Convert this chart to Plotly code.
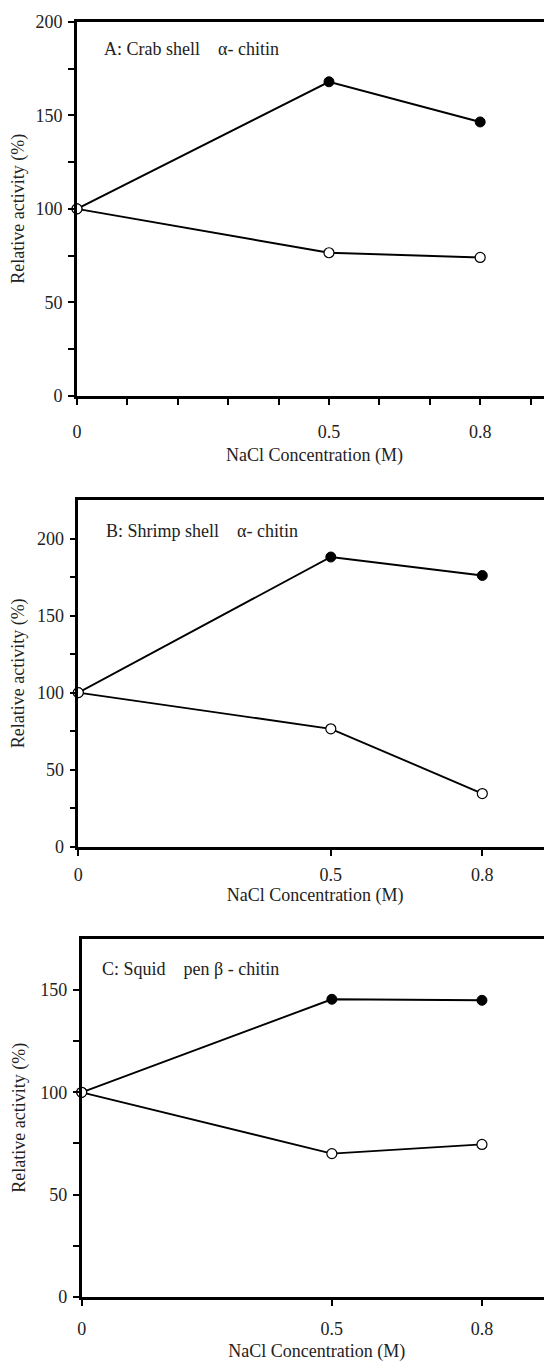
import plotly.graph_objects as go

OFF = 8  # default page body margin
W, H = 552 - OFF, 1362 - OFF

nacl = [0, 0.5, 0.8]

crab_filled = [100, 168, 146.5]
crab_open = [100, 76.5, 74]
shrimp_filled = [100, 188, 176]
shrimp_open = [100, 76.5, 34.5]
squid_filled = [100, 145.5, 145]
squid_open = [100, 70, 74.5]

panel_labels = ["A: Crab shell    \u03b1- chitin",
                "B: Shrimp shell    \u03b1- chitin",
                "C: Squid    pen \u03b2 - chitin"]
x_title = "NaCl Concentration (M)"
y_title = "Relative activity (%)"

FONT = "Liberation Serif"
FS = 18
COL = "#222"

# panel geometry in page pixels
panels = [
    dict(left=77, top=22, bottom=395.7, xmax=0.9425, ymax=200,
         filled=crab_filled, open=crab_open,
         xticks=[0, 0.1, 0.2, 0.3, 0.4, 0.5, 0.6, 0.7, 0.8, 0.9],
         yticks=[0, 25, 50, 75, 100, 125, 150, 175, 200],
         lab_off=12, title_off=8, ax=0.053, ay=0.928),
    dict(left=78.3, top=500, bottom=846.7, xmax=0.938, ymax=225,
         filled=shrimp_filled, open=shrimp_open,
         xticks=[0, 0.5, 0.8],
         yticks=[0, 25, 50, 75, 100, 125, 150, 175, 200],
         lab_off=4, title_off=5, ax=0.054, ay=0.911),
    dict(left=81.7, top=939, bottom=1296.7, xmax=0.94, ymax=175,
         filled=squid_filled, open=squid_open,
         xticks=[0, 0.5, 0.8],
         yticks=[0, 25, 50, 75, 100, 125, 150],
         lab_off=8, title_off=8, ax=0.039, ay=0.916),
]

fig = go.Figure()
layout = dict(
    width=W, height=H, margin=dict(l=0, r=0, t=0, b=0),
    paper_bgcolor="white", plot_bgcolor="white", showlegend=False,
    template="none", font=dict(family=FONT, size=FS, color=COL),
)
annotations = []

def fmt_x(v):
    return {0: "0", 0.5: "0.5", 0.8: "0.8"}.get(v, "")

for i, p in enumerate(panels):
    n = "" if i == 0 else str(i + 1)
    xa, ya = "x" + n, "y" + n
    fig.add_trace(go.Scatter(
        x=nacl, y=p["filled"], xaxis=xa, yaxis=ya, mode="lines+markers",
        line=dict(color="black", width=1.9),
        marker=dict(symbol="circle", size=10, color="black",
                    line=dict(color="black", width=1)),
        cliponaxis=False))
    fig.add_trace(go.Scatter(
        x=nacl, y=p["open"], xaxis=xa, yaxis=ya, mode="lines+markers",
        line=dict(color="black", width=1.9),
        marker=dict(symbol="circle", size=10, color="white",
                    line=dict(color="black", width=1.2)),
        cliponaxis=False))
    xd = [(p["left"] - OFF) / W, 1]
    yd = [(H - (p["bottom"] - OFF)) / H, (H - (p["top"] - OFF)) / H]
    layout["xaxis" + n] = dict(
        domain=xd, range=[0, p["xmax"]], anchor=ya,
        showline=True, linecolor="black", linewidth=2.6, mirror=True,
        showgrid=False, zeroline=False,
        ticks="outside", ticklen=6, tickwidth=2, tickcolor="black",
        tickvals=p["xticks"], ticktext=[fmt_x(v) for v in p["xticks"]],
        ticklabelstandoff=p["lab_off"],
        tickfont=dict(family=FONT, size=FS, color=COL),
        title=dict(text=x_title, standoff=p["title_off"],
                   font=dict(family=FONT, size=FS, color=COL)),
        automargin=False, fixedrange=True)
    layout["yaxis" + n] = dict(
        domain=yd, range=[0, p["ymax"]], anchor=xa,
        showline=True, linecolor="black", linewidth=2.6, mirror=False,
        showgrid=False, zeroline=False,
        ticks="outside", ticklen=6, tickwidth=2, tickcolor="black",
        tickvals=p["yticks"],
        ticktext=[str(v) if v % 50 == 0 else "" for v in p["yticks"]],
        ticklabelstandoff=2, tickfont=dict(family=FONT, size=FS, color=COL),
        title=dict(text=y_title, standoff=10,
                   font=dict(family=FONT, size=FS, color=COL)),
        automargin=False, fixedrange=True)
    annotations.append(dict(
        text=panel_labels[i], xref=xa + " domain", yref=ya + " domain",
        x=p["ax"], y=p["ay"], xanchor="left", yanchor="middle",
        showarrow=False, font=dict(family=FONT, size=FS, color=COL)))

layout["annotations"] = annotations
fig.update_layout(**layout)
fig.write_html("out.html")
